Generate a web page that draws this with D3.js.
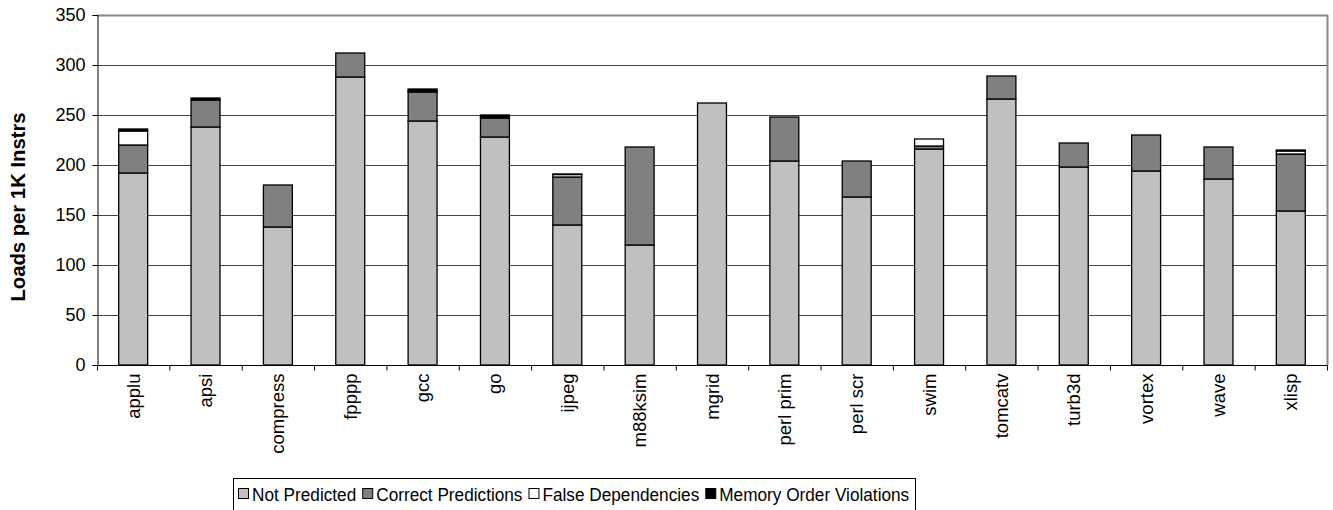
<!DOCTYPE html>
<html><head><meta charset="utf-8">
<script src="https://cdn.jsdelivr.net/npm/d3@7"></script>
<style>body{margin:0;background:#fff}svg{display:block;font-family:Arial,"Liberation Sans",sans-serif}</style>
</head><body><svg id="c" width="1333" height="510"></svg>
<script>
const categories = ["applu","apsi","compress","fpppp","gcc","go","ijpeg","m88ksim","mgrid","perl prim","perl scr","swim","tomcatv","turb3d","vortex","wave","xlisp"];
const notPredicted = [192,238,138,288,244,228,140,120,262,204,168,216,266,198,194,186,154];
const correctPredictions = [28,27,42,24,29,19,48,98,0,44,36,3,23,24,36,32,57];
const falseDependencies = [14,0,0,0,1,1,2.5,0,0,0,0,7,0,0,0,0,3];
const memoryOrderViolations = [2,2,0,0,2,2,0.5,0,0,0,0,0,0,0,0,0,1];
const seriesNames = ["Not Predicted","Correct Predictions","False Dependencies","Memory Order Violations"];
const seriesColors = ["#c0c0c0","#808080","#ffffff","#000000"];
const yTicks = [0,50,100,150,200,250,300,350];
const yTitle = "Loads per 1K Instrs";

const svg = d3.select("#c");
const L=97, R=1327, T=15, B=365;
const x = d3.scaleBand().domain(categories).range([L,R]).paddingInner(0.6).paddingOuter(0.3);
const y = d3.scaleLinear().domain([0,350]).range([B,T]);

// gridlines
svg.append("g").selectAll("line").data(yTicks.filter(v=>v>0 && v<350)).join("line")
  .attr("x1",L).attr("x2",R).attr("y1",d=>y(d)+0.5).attr("y2",d=>y(d)+0.5)
  .attr("stroke","#444").attr("stroke-width",1);
// plot border top/right
svg.append("line").attr("x1",L).attr("x2",R+1).attr("y1",y(350)+0.5).attr("y2",y(350)+0.5).attr("stroke","#888").attr("stroke-width",2);
svg.append("line").attr("x1",R+0.5).attr("x2",R+0.5).attr("y1",T).attr("y2",B).attr("stroke","#888").attr("stroke-width",2);

// stacked data
const rows = categories.map((c,i)=>({cat:c, s0:notPredicted[i], s1:correctPredictions[i], s2:falseDependencies[i], s3:memoryOrderViolations[i]}));
const stack = d3.stack().keys(["s0","s1","s2","s3"])(rows);
svg.append("g").selectAll("g").data(stack).join("g")
  .attr("fill",(d,i)=>seriesColors[i])
  .selectAll("rect").data(d=>d.filter(p=>p[1]-p[0]>0)).join("rect")
  .attr("x",d=>x(d.data.cat)).attr("width",x.bandwidth())
  .attr("y",d=>y(d[1])).attr("height",d=>y(d[0])-y(d[1]))
  .attr("stroke","#000").attr("stroke-width",1.3);

// y axis
const yAxis = d3.axisLeft(y).tickValues(yTicks).tickSize(5).tickPadding(7).tickFormat(d3.format("d"));
const ga = svg.append("g").attr("transform",`translate(${L+0.5},0)`).call(yAxis);
ga.select(".domain").attr("stroke","#000");
ga.selectAll(".tick line").attr("stroke","#000");
ga.selectAll("text").attr("font-size",18).attr("fill","#000").attr("font-family","Arial, 'Liberation Sans'");

// x axis
const gx = svg.append("g").attr("transform",`translate(0,${B+0.5})`);
gx.append("line").attr("x1",L).attr("x2",R+1).attr("stroke","#000");
const step = x.step();
gx.selectAll("line.t").data(d3.range(categories.length+1)).join("line").attr("class","t")
  .attr("x1",i=>L+0.5+i*step).attr("x2",i=>L+0.5+i*step).attr("y1",0).attr("y2",5).attr("stroke","#000");
gx.selectAll("text").data(categories).join("text")
  .attr("transform",d=>`translate(${x(d)+x.bandwidth()/2+6.5},8) rotate(-90)`)
  .attr("text-anchor","end").attr("font-size",18.5).attr("fill","#000").text(d=>d);

// y title
svg.append("text").attr("transform","translate(25,207) rotate(-90) scale(1.04,1)")
  .attr("text-anchor","middle").attr("font-size",19.5).attr("font-weight","bold").attr("fill","#000").text(yTitle);

// legend (items laid out from measured text widths)
const lg = svg.append("g");
lg.append("rect").attr("x",233.5).attr("y",478.5).attr("width",682).attr("height",40).attr("fill","#fff").attr("stroke","#000");
let cx = 238;
seriesNames.forEach((n,i)=>{
  lg.append("rect").attr("x",cx+0.5).attr("y",488.5).attr("width",10).attr("height",10).attr("fill",seriesColors[i]).attr("stroke","#000");
  const t = lg.append("text").attr("transform",`translate(${cx+14},500.5) scale(0.93,1)`).attr("font-size",18.5).attr("fill","#000").text(n);
  const w = t.node().getComputedTextLength()*0.93;
  cx = cx + 14 + w + 6;
});
</script></body></html>
